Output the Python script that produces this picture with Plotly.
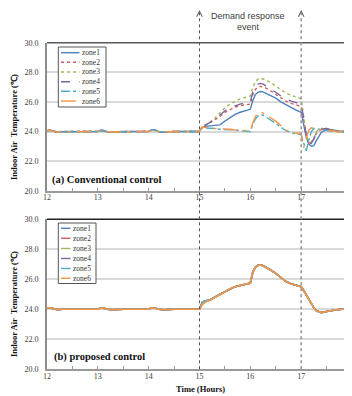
import plotly.graph_objects as go

# ---------------- data ----------------
hours = [12.0, 12.05, 12.1, 12.2, 12.3, 12.5, 13.0, 13.05, 13.1, 13.2, 13.3, 13.5,
         14.0, 14.05, 14.1, 14.2, 14.3, 14.5, 15.0, 15.05, 15.1, 15.2, 15.3, 15.4,
         15.5, 15.6, 15.7, 15.8, 15.9, 16.0, 16.05, 16.1, 16.15, 16.2, 16.25, 16.3,
         16.4, 16.5, 16.6, 16.7, 16.8, 16.9, 17.0, 17.05, 17.1, 17.15, 17.2, 17.25,
         17.3, 17.4, 17.5, 17.6, 17.7, 17.8, 18.0]

zones = ["zone1", "zone2", "zone3", "zone4", "zone5", "zone6"]
colors = ["#4F81BD", "#D0605C", "#9BBB59", "#8064A2", "#4BACC6", "#F79646"]
conv_dash = ["solid", "dot", "dot", "dash", "dashdot", "longdashdot"]

# (a) conventional control
conv_zone1 = [24.05, 24.1, 24.05, 23.95, 23.98, 24.0, 24.0, 24.08, 24.06, 23.96, 23.98, 24.0,
              24.0, 24.1, 24.12, 23.98, 23.95, 24.0, 24.0, 24.25, 24.35, 24.4, 24.42, 24.45,
              24.7, 24.95, 25.15, 25.3, 25.4, 25.5, 26.1, 26.5, 26.65, 26.7, 26.68, 26.6,
              26.45, 26.25, 26.0, 25.8, 25.6, 25.45, 25.3, 24.5, 23.6, 23.15, 23.0, 23.05,
              23.4, 23.95, 24.15, 24.12, 24.05, 24.0, 24.0]
conv_zone2 = [24.05, 24.08, 24.04, 23.96, 24.0, 24.0, 24.0, 24.06, 24.08, 23.98, 23.97, 24.0,
              24.0, 24.08, 24.14, 24.0, 23.96, 24.0, 24.0, 24.3, 24.4, 24.55, 24.75, 25.0,
              25.3, 25.5, 25.65, 25.75, 25.8, 25.85, 26.5, 26.85, 27.0, 27.05, 27.0, 26.95,
              26.75, 26.5, 26.25, 26.05, 25.9, 25.8, 25.7, 24.8, 23.7, 23.25, 23.2, 23.5,
              23.9, 24.15, 24.2, 24.1, 24.0, 24.0, 24.0]
conv_zone3 = [24.06, 24.08, 24.05, 23.97, 23.99, 24.0, 24.0, 24.07, 24.07, 23.97, 23.98, 24.0,
              24.0, 24.09, 24.13, 23.99, 23.96, 24.0, 24.0, 24.3, 24.4, 24.6, 24.9, 25.25,
              25.6, 25.85, 26.05, 26.2, 26.3, 26.4, 27.0, 27.35, 27.55, 27.6, 27.55, 27.5,
              27.3, 27.05, 26.8, 26.6, 26.45, 26.35, 26.2, 25.0, 23.8, 23.3, 23.3, 23.6,
              24.0, 24.2, 24.2, 24.1, 24.0, 24.0, 24.0]
conv_zone4 = [24.05, 24.09, 24.05, 23.96, 23.99, 24.0, 24.0, 24.07, 24.07, 23.97, 23.97, 24.0,
              24.0, 24.09, 24.13, 23.99, 23.96, 24.0, 24.0, 24.3, 24.4, 24.55, 24.8, 25.1,
              25.4, 25.6, 25.75, 25.85, 25.95, 26.0, 26.7, 27.05, 27.2, 27.25, 27.2, 27.1,
              26.9, 26.65, 26.4, 26.2, 26.05, 25.95, 25.85, 24.9, 23.75, 23.25, 23.2, 23.5,
              23.9, 24.15, 24.2, 24.1, 24.0, 24.0, 24.0]
conv_zone5 = [24.04, 24.08, 24.04, 23.97, 24.0, 24.0, 24.0, 24.06, 24.06, 23.98, 23.98, 24.0,
              24.0, 24.07, 24.12, 24.0, 23.97, 24.0, 24.0, 24.25, 24.25, 24.2, 24.2, 24.15,
              24.15, 24.1, 24.1, 24.05, 24.05, 24.0, 24.5, 24.85, 25.05, 25.15, 25.1, 25.0,
              24.8, 24.55, 24.3, 24.05, 23.9, 23.85, 23.8, 23.2, 22.7, 23.4, 24.0, 24.2,
              24.2, 24.1, 24.05, 24.0, 24.0, 24.0, 24.0]
conv_zone6 = [24.05, 24.1, 24.05, 23.96, 23.99, 24.0, 24.0, 24.07, 24.07, 23.97, 23.97, 24.0,
              24.0, 24.09, 24.14, 23.99, 23.96, 24.0, 24.0, 24.3, 24.3, 24.25, 24.2, 24.2,
              24.15, 24.15, 24.1, 24.1, 24.05, 24.05, 24.6, 25.0, 25.25, 25.3, 25.25, 25.15,
              24.95, 24.7, 24.4, 24.1, 23.95, 23.9, 23.85, 22.9, 23.6, 24.1, 24.25, 24.25,
              24.2, 24.1, 24.05, 24.0, 24.0, 24.0, 24.0]

# (b) proposed control
prop_zone1 = [24.08, 24.1, 24.06, 23.98, 24.0, 24.0, 24.0, 24.08, 24.08, 24.0, 23.98, 24.0,
              24.0, 24.08, 24.1, 24.0, 23.97, 24.0, 24.0, 24.45, 24.55, 24.62, 24.8, 25.0,
              25.2, 25.35, 25.5, 25.6, 25.68, 25.75, 26.5, 26.8, 26.93, 26.95, 26.9, 26.82,
              26.62, 26.4, 26.12, 25.85, 25.7, 25.6, 25.5, 25.25, 24.95, 24.65, 24.4, 24.1,
              23.9, 23.78, 23.85, 23.92, 23.97, 24.0, 24.0]
prop_zone2 = [24.08, 24.1, 24.06, 23.99, 24.0, 24.0, 24.0, 24.08, 24.08, 24.0, 23.98, 24.0,
              24.0, 24.08, 24.1, 24.0, 23.98, 24.0, 24.0, 24.35, 24.5, 24.62, 24.8, 25.0,
              25.2, 25.35, 25.5, 25.6, 25.68, 25.75, 26.5, 26.8, 26.93, 26.95, 26.9, 26.82,
              26.62, 26.4, 26.12, 25.85, 25.7, 25.6, 25.5, 25.25, 24.95, 24.65, 24.4, 24.1,
              23.9, 23.78, 23.85, 23.92, 23.97, 24.0, 24.0]
prop_zone3 = [24.08, 24.1, 24.06, 23.98, 24.0, 24.0, 24.0, 24.08, 24.08, 24.0, 23.98, 24.0,
              24.0, 24.08, 24.1, 24.0, 23.97, 24.0, 24.0, 24.3, 24.48, 24.6, 24.8, 25.0,
              25.2, 25.35, 25.5, 25.6, 25.68, 25.75, 26.48, 26.8, 26.92, 26.95, 26.9, 26.82,
              26.62, 26.4, 26.12, 25.85, 25.7, 25.6, 25.5, 25.25, 24.95, 24.65, 24.4, 24.1,
              23.9, 23.78, 23.85, 23.92, 23.97, 24.0, 24.0]
prop_zone4 = [24.07, 24.1, 24.05, 23.97, 24.0, 24.0, 24.0, 24.08, 24.08, 23.99, 23.97, 24.0,
              24.0, 24.09, 24.12, 24.0, 23.96, 24.0, 24.0, 24.4, 24.52, 24.62, 24.8, 25.0,
              25.2, 25.35, 25.5, 25.6, 25.68, 25.75, 26.5, 26.82, 26.95, 26.97, 26.92, 26.83,
              26.62, 26.4, 26.12, 25.85, 25.7, 25.6, 25.5, 25.25, 24.95, 24.65, 24.4, 24.1,
              23.9, 23.78, 23.85, 23.92, 23.97, 24.0, 24.0]
prop_zone5 = [24.08, 24.1, 24.06, 23.98, 24.0, 24.0, 24.0, 24.08, 24.08, 24.0, 23.98, 24.0,
              24.0, 24.08, 24.1, 24.0, 23.97, 24.0, 24.0, 24.42, 24.55, 24.62, 24.8, 25.0,
              25.2, 25.35, 25.5, 25.6, 25.68, 25.75, 26.5, 26.8, 26.93, 26.95, 26.9, 26.82,
              26.62, 26.4, 26.12, 25.85, 25.7, 25.6, 25.5, 25.25, 24.95, 24.65, 24.4, 24.1,
              23.9, 23.78, 23.85, 23.92, 23.97, 24.0, 24.0]
prop_zone6 = [24.08, 24.1, 24.06, 23.98, 24.0, 24.0, 24.0, 24.08, 24.08, 24.0, 23.98, 24.0,
              24.0, 24.08, 24.1, 24.0, 23.97, 24.0, 24.0, 24.3, 24.45, 24.6, 24.8, 25.0,
              25.2, 25.35, 25.5, 25.6, 25.68, 25.75, 26.5, 26.8, 26.93, 26.95, 26.9, 26.82,
              26.62, 26.4, 26.12, 25.85, 25.7, 25.6, 25.5, 25.25, 24.95, 24.65, 24.4, 24.1,
              23.9, 23.78, 23.85, 23.92, 23.97, 24.0, 24.0]

conv_series = [conv_zone1, conv_zone2, conv_zone3, conv_zone4, conv_zone5, conv_zone6]
prop_series = [prop_zone1, prop_zone2, prop_zone3, prop_zone4, prop_zone5, prop_zone6]

x_ticks = [12, 13, 14, 15, 16, 17, 18]
y_ticks = [20, 22, 24, 26, 28, 30]
dr_start, dr_end = 15, 17

# ---------------- layout helpers ----------------
OFF = 8  # page body margin of the html page
W, H = 352 - OFF, 396 - OFF
def px(x):
    return (x - OFF) / W
def py(y):
    return 1 - (y - OFF) / H

SERIF = "Liberation Serif"
SANS = "Liberation Sans"

fig = go.Figure()
for name, col, dash, ys in zip(zones, colors, conv_dash, conv_series):
    fig.add_trace(go.Scatter(x=hours, y=ys, mode="lines", name=name, xaxis="x", yaxis="y",
                             line=dict(color=col, width=1.4, dash=dash), showlegend=False))
for name, col, ys in zip(zones, colors, prop_series):
    fig.add_trace(go.Scatter(x=hours, y=ys, mode="lines", name=name, xaxis="x2", yaxis="y2",
                             line=dict(color=col, width=1.6), showlegend=False))

xdom = [px(47), 1.0]
ydom_top = [py(190.7), py(42.7)]
ydom_bot = [py(369.3), py(219.3)]

def xaxis_cfg():
    return dict(domain=xdom, range=[12, 18], tickvals=x_ticks, ticktext=[str(v) for v in x_ticks],
                ticks="inside", ticklen=3, tickcolor="#999", showline=True, linecolor="#999",
                linewidth=2, showgrid=False, zeroline=False, ticklabeloverflow="allow",
                ticklabelstandoff=-2,
                automargin=False, tickfont=dict(family=SERIF, size=8, color="#404040"),
                minor=dict(dtick=0.5, ticks="inside", ticklen=3, tickcolor="#999"))

def yaxis_cfg():
    return dict(range=[20, 30], tickvals=y_ticks, tickformat=".1f", showline=True,
                linecolor="#8c8c8c", linewidth=2, showgrid=True, gridcolor="#d9d9d9",
                gridwidth=1.5, zeroline=False, ticks="", automargin=False,
                ticklabelstandoff=5, tickfont=dict(family=SERIF, size=8, color="#404040"))

shapes = []
annotations = []

# top borders of the plot areas
for yref, col in [("y", "#595959"), ("y2", "#222222")]:
    shapes.append(dict(type="line", xref="x domain" if yref == "y" else "x2 domain",
                       yref=yref + " domain", x0=0, x1=1, y0=1, y1=1,
                       line=dict(color=col, width=1.5)))

# demand response event lines
top_px = 10
for xv, col, wd in [(dr_start, "#555555", 1), (dr_end, "#9a9a9a", 1.6)]:
    shapes.append(dict(type="line", xref="x", yref="paper", x0=xv, x1=xv,
                       y0=ydom_bot[0], y1=py(top_px), line=dict(color=col, width=wd, dash="dot")))
    annotations.append(dict(x=xv, y=py(top_px), xref="x", yref="paper", text="", showarrow=True,
                            ax=0, ay=4, arrowhead=5, arrowsize=1.1, arrowwidth=1, arrowcolor="#666"))

annotations.append(dict(x=px(248), y=py(16), xref="paper", yref="paper", text="Demand response",
                        showarrow=False, font=dict(family=SANS, size=9, color="#404040"),
                        xanchor="center", yanchor="middle"))
annotations.append(dict(x=px(248), y=py(27), xref="paper", yref="paper", text="event",
                        showarrow=False, font=dict(family=SANS, size=9, color="#404040"),
                        xanchor="center", yanchor="middle"))

# y titles
for yc in [127, 304]:
    annotations.append(dict(x=px(14), y=py(yc), xref="paper", yref="paper",
                            text="<b>Indoor Air  Temperature (℃)</b>", textangle=-90,
                            showarrow=False, font=dict(family=SERIF, size=8.5, color="#111"),
                            xanchor="center", yanchor="middle"))

annotations.append(dict(x=px(200), y=py(388.7), xref="paper", yref="paper",
                        text="<b>Time (Hours)</b>", showarrow=False,
                        font=dict(family=SERIF, size=8.5, color="#111"),
                        xanchor="center", yanchor="middle"))

annotations.append(dict(x=px(50), y=py(180), xref="paper", yref="paper",
                        text="<b>(a) Conventional control</b>", showarrow=False,
                        font=dict(family=SERIF, size=10.5, color="#111"),
                        xanchor="left", yanchor="middle"))
annotations.append(dict(x=px(52), y=py(357), xref="paper", yref="paper",
                        text="<b>(b) proposed control</b>", showarrow=False,
                        font=dict(family=SERIF, size=10.5, color="#111"),
                        xanchor="left", yanchor="middle"))

# legends (drawn as layout decoration)
def legend_box(x0, x1, y0, y1, row_y, line_x0, line_x1, dashes):
    shapes.append(dict(type="rect", xref="paper", yref="paper", x0=px(x0), x1=px(x1),
                       y0=py(y1), y1=py(y0), line=dict(color="#555", width=1),
                       fillcolor="white", layer="above"))
    for i, (name, col, dash) in enumerate(zip(zones, colors, dashes)):
        yy = row_y[i]
        shapes.append(dict(type="line", xref="paper", yref="paper", x0=px(line_x0), x1=px(line_x1),
                           y0=py(yy), y1=py(yy), line=dict(color=col, width=1.4, dash=dash),
                           layer="above"))
        annotations.append(dict(x=px(line_x1 + 0.2), y=py(yy), xref="paper", yref="paper",
                                text=name, showarrow=False, xanchor="left", yanchor="middle",
                                font=dict(family=SERIF, size=7.5, color="#333")))

legend_box(58.3, 106, 47, 107, [52.7, 62.3, 72, 81.7, 91.3, 101], 61, 79.5, conv_dash)
legend_box(58.3, 96, 223, 283.5, [228.3, 238.3, 248.5, 258.5, 268.5, 278.3], 61, 70.5, ["solid"] * 6)

fig.update_layout(
    width=W, height=H, margin=dict(l=0, r=0, t=0, b=0),
    paper_bgcolor="white", plot_bgcolor="white", showlegend=False,
    xaxis=dict(**xaxis_cfg(), anchor="y"),
    yaxis=dict(**yaxis_cfg(), domain=ydom_top, anchor="x"),
    xaxis2=dict(**xaxis_cfg(), anchor="y2", matches="x"),
    yaxis2=dict(**yaxis_cfg(), domain=ydom_bot, anchor="x2"),
    shapes=shapes, annotations=annotations,
)

fig.write_html("out.html")
